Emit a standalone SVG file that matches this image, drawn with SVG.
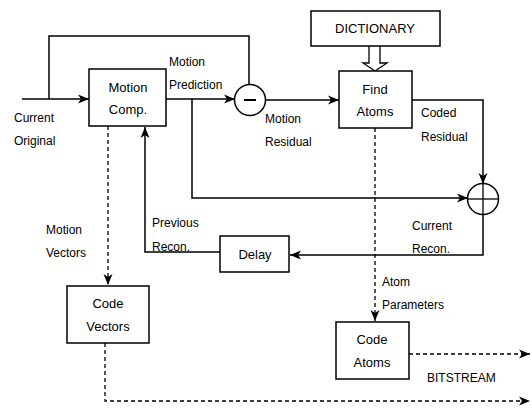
<svg xmlns="http://www.w3.org/2000/svg" width="532" height="408" viewBox="0 0 532 408">
<defs>
<marker id="ah" markerUnits="userSpaceOnUse" markerWidth="12" markerHeight="10" refX="11" refY="5" orient="auto">
<path d="M0,0.5 L11,5 L0,9.5 L3,5 Z" fill="#000"/>
</marker>
</defs>
<style>
.box{fill:#fff;stroke:#000;stroke-width:1.5}
.ln{fill:none;stroke:#000;stroke-width:1.5}
.ds{fill:none;stroke:#000;stroke-width:1.3;stroke-dasharray:4 3}
.bt{font-family:"Liberation Sans",Arial,sans-serif;font-size:13px;fill:#000;text-anchor:middle;dominant-baseline:central}
.lb{font-family:"Liberation Sans",Arial,sans-serif;font-size:12px;fill:#000;dominant-baseline:central}
</style>
<rect width="532" height="408" fill="#fff"/>
<g id="connectors">
<polyline class="ln" points="22,99 89,99" marker-end="url(#ah)"/>
<polyline class="ln" points="49,99 49,36 249,36 249,85"/>
<polyline class="ln" points="166,99 235,99" marker-end="url(#ah)"/>
<polyline class="ln" points="192,99 192,198 468,198" marker-end="url(#ah)"/>
<polyline class="ln" points="265,100 339,100" marker-end="url(#ah)"/>
<polyline class="ln" points="412,100 483,100 483,184" marker-end="url(#ah)"/>
<polyline class="ln" points="483,214 483,255 290,255" marker-end="url(#ah)"/>
<polyline class="ln" points="220,252 145,252 145,127" marker-end="url(#ah)"/>
<polyline class="ds" points="108,126 108,285" marker-end="url(#ah)"/>
<polyline class="ds" points="375,128 375,321" marker-end="url(#ah)"/>
<polyline class="ds" points="409,354 530,354" marker-end="url(#ah)"/>
<polyline class="ds" points="105,343 105,401 530,401" marker-end="url(#ah)"/>
<path d="M369,46 L369,63 L363,63 L375,71 L387,63 L380,63 L380,46" fill="#fff" stroke="#000" stroke-width="1.3"/>
</g>
<g id="dictionary">
<rect class="box" x="311" y="11" width="129" height="35"/>
<text class="bt" x="375" y="28">DICTIONARY</text>
</g>
<g id="motion-comp">
<rect class="box" x="89" y="69" width="77" height="57"/>
<text class="bt" x="128" y="87">Motion</text>
<text class="bt" x="128" y="109">Comp.</text>
</g>
<g id="subtract">
<circle cx="250" cy="100" r="15.5" fill="#fff" stroke="#000" stroke-width="1.5"/>
<line x1="244" y1="100" x2="256" y2="100" stroke="#000" stroke-width="2"/>
</g>
<g id="find-atoms">
<rect class="box" x="339" y="71" width="73" height="57"/>
<text class="bt" x="375" y="89">Find</text>
<text class="bt" x="375" y="111">Atoms</text>
</g>
<g id="add">
<circle cx="483" cy="199" r="15.5" fill="none" stroke="#000" stroke-width="1.5"/>
<line x1="467.5" y1="199" x2="498.5" y2="199" stroke="#000" stroke-width="1.3"/>
<line x1="483" y1="183.5" x2="483" y2="214.5" stroke="#000" stroke-width="1.3"/>
</g>
<g id="delay">
<rect class="box" x="220" y="236" width="69" height="36"/>
<text class="bt" x="255" y="254">Delay</text>
</g>
<g id="code-vectors">
<rect class="box" x="67" y="286" width="82" height="57"/>
<text class="bt" x="108" y="303">Code</text>
<text class="bt" x="108" y="326">Vectors</text>
</g>
<g id="code-atoms">
<rect class="box" x="336" y="322" width="73" height="57"/>
<text class="bt" x="372" y="339">Code</text>
<text class="bt" x="372" y="362">Atoms</text>
</g>
<g id="labels">
<text class="lb" x="14" y="118">Current</text>
<text class="lb" x="14" y="141">Original</text>
<text class="lb" x="169" y="62">Motion</text>
<text class="lb" x="169" y="85">Prediction</text>
<text class="lb" x="265" y="119">Motion</text>
<text class="lb" x="265" y="142">Residual</text>
<text class="lb" x="421" y="113">Coded</text>
<text class="lb" x="421" y="137">Residual</text>
<text class="lb" x="412" y="226">Current</text>
<text class="lb" x="412" y="249">Recon.</text>
<text class="lb" x="152" y="223">Previous</text>
<text class="lb" x="152" y="247">Recon.</text>
<text class="lb" x="46" y="230">Motion</text>
<text class="lb" x="46" y="253">Vectors</text>
<text class="lb" x="382" y="282">Atom</text>
<text class="lb" x="382" y="305">Parameters</text>
<text class="lb" x="427" y="378">BITSTREAM</text>
</g>
</svg>
